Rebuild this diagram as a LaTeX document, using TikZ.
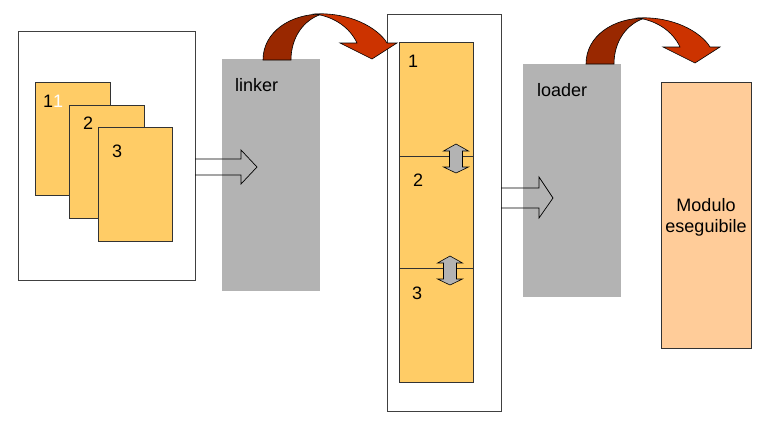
\documentclass[tikz,border=0pt]{standalone}
\usepackage{fontspec}
\setmainfont{Liberation Sans}
\usetikzlibrary{positioning}

\definecolor{pagefill}{RGB}{255,204,102}
\definecolor{toolgray}{RGB}{179,179,179}
\definecolor{exefill}{RGB}{255,204,153}
\definecolor{bendback}{RGB}{153,40,0}
\definecolor{bendfront}{RGB}{204,51,0}

\tikzset{
  box/.style={draw, anchor=north west, inner sep=0pt, outer sep=0pt},
  frame/.style={box, draw=black!75, line width=0.8pt},
  page/.style={box, fill=pagefill, draw=black!80, line width=0.7pt},
  tool/.style={box, fill=toolgray, draw=none},
  num/.style={anchor=base west, inner sep=0pt, font=\fontsize{18}{21}\selectfont},
  blockarrow/.style={draw=black, line width=0.7pt, line join=miter},
  swapfill/.style={fill=toolgray, draw=black, line width=0.6pt, line join=miter},
  swap/.pic={
    \draw[swapfill] (0,-12) -- (12.5,-5) -- (6.5,-5) -- (6.5,11) -- (12.5,11)
      -- (0,17) -- (-12.5,11) -- (-6.5,11) -- (-6.5,-5) -- (-12.5,-5) -- cycle;
  },
  bend/.pic={
    \filldraw[fill=bendback, draw=black, line width=0.6pt] (0,0)
      .. controls (0,-28) and (27,-46) .. (59,-46)
      .. controls (40,-40) and (28,-22) .. (28,0) -- cycle;
    \filldraw[fill=bendfront, draw=black, line width=0.6pt] (52,-46)
      .. controls (87,-48) and (115,-32) .. (124,-17) -- (134,-17) -- (109,-1)
      -- (77,-17) -- (94,-17) .. controls (87,-32) and (72,-43) .. (52,-46) -- cycle;
  },
}

\begin{document}
\begin{tikzpicture}[x=1pt, y=-1pt]
\useasboundingbox (0,0) rectangle (760,429);

% object files
\node[frame, minimum width=177pt, minimum height=249pt] (srcbox) at (18,31) {};
\node[page, minimum width=75pt, minimum height=113pt] (pagea) at (35,82) {};
\node[page, minimum width=75pt, minimum height=113pt] (pageb) at (69,105) {};
\node[page, minimum width=74pt, minimum height=114pt] (pagec) at (98,127) {};
\node[num] (numa) at ([xshift=8pt, yshift=-25pt]pagea.north west) {1\textcolor{white}{1}};
\node[num] (numb) at ([xshift=14pt, yshift=-24pt]pageb.north west) {2};
\node[num] (numc) at ([xshift=14pt, yshift=-30pt]pagec.north west) {3};

% linker
\node[tool, minimum width=98pt, minimum height=232pt] (linker) at (222,59) {};
\node[num] (linkertext) at ([xshift=13pt, yshift=-32pt]linker.north west) {linker};
\draw[blockarrow] ([yshift=-3.5pt]srcbox.east) -- ++(46,0) -- ++(0,-9) -- ++(16,17)
  -- ++(-16,17) -- ++(0,-9) -- ++(-46,0);

% linked module
\node[frame, minimum width=114pt, minimum height=397pt] (objbox) at (387,14) {};
\node[page, minimum width=74pt, minimum height=114pt] (seca) at (399,42) {};
\node[page, minimum width=74pt, minimum height=112pt] (secb) at (399,156) {};
\node[page, minimum width=74pt, minimum height=114pt] (secc) at (399,268) {};
\node[num] (seclabela) at ([xshift=9pt, yshift=-25pt]seca.north west) {1};
\node[num] (seclabelb) at ([xshift=14pt, yshift=-30pt]secb.north west) {2};
\node[num] (seclabelc) at ([xshift=13pt, yshift=-31pt]secc.north west) {3};
\pic at ([xshift=20pt]seca.south) {swap};
\pic at ([xshift=14pt]secb.south) {swap};

% loader
\node[tool, minimum width=98pt, minimum height=233pt] (loader) at (523,64) {};
\node[num] (loadertext) at ([xshift=14pt, yshift=-32pt]loader.north west) {loader};
\draw[blockarrow] ([yshift=24.5pt]objbox.east) -- ++(38,0) -- ++(0,-11) -- ++(14,21)
  -- ++(-14,20) -- ++(0,-10) -- ++(-38,0);

% executable
\node[box, fill=exefill, draw=black!80, line width=0.7pt,
  minimum width=90pt, minimum height=266pt] (exe) at (661,82) {};
\node[num, anchor=center, align=center] (exetext) at (706,217) {Modulo\\eseguibile};

% curved arrows
\pic at ([xshift=41pt, yshift=-1pt]linker.north west) {bend};
\pic at ([xshift=63pt]loader.north west) {bend};
\end{tikzpicture}
\end{document}
